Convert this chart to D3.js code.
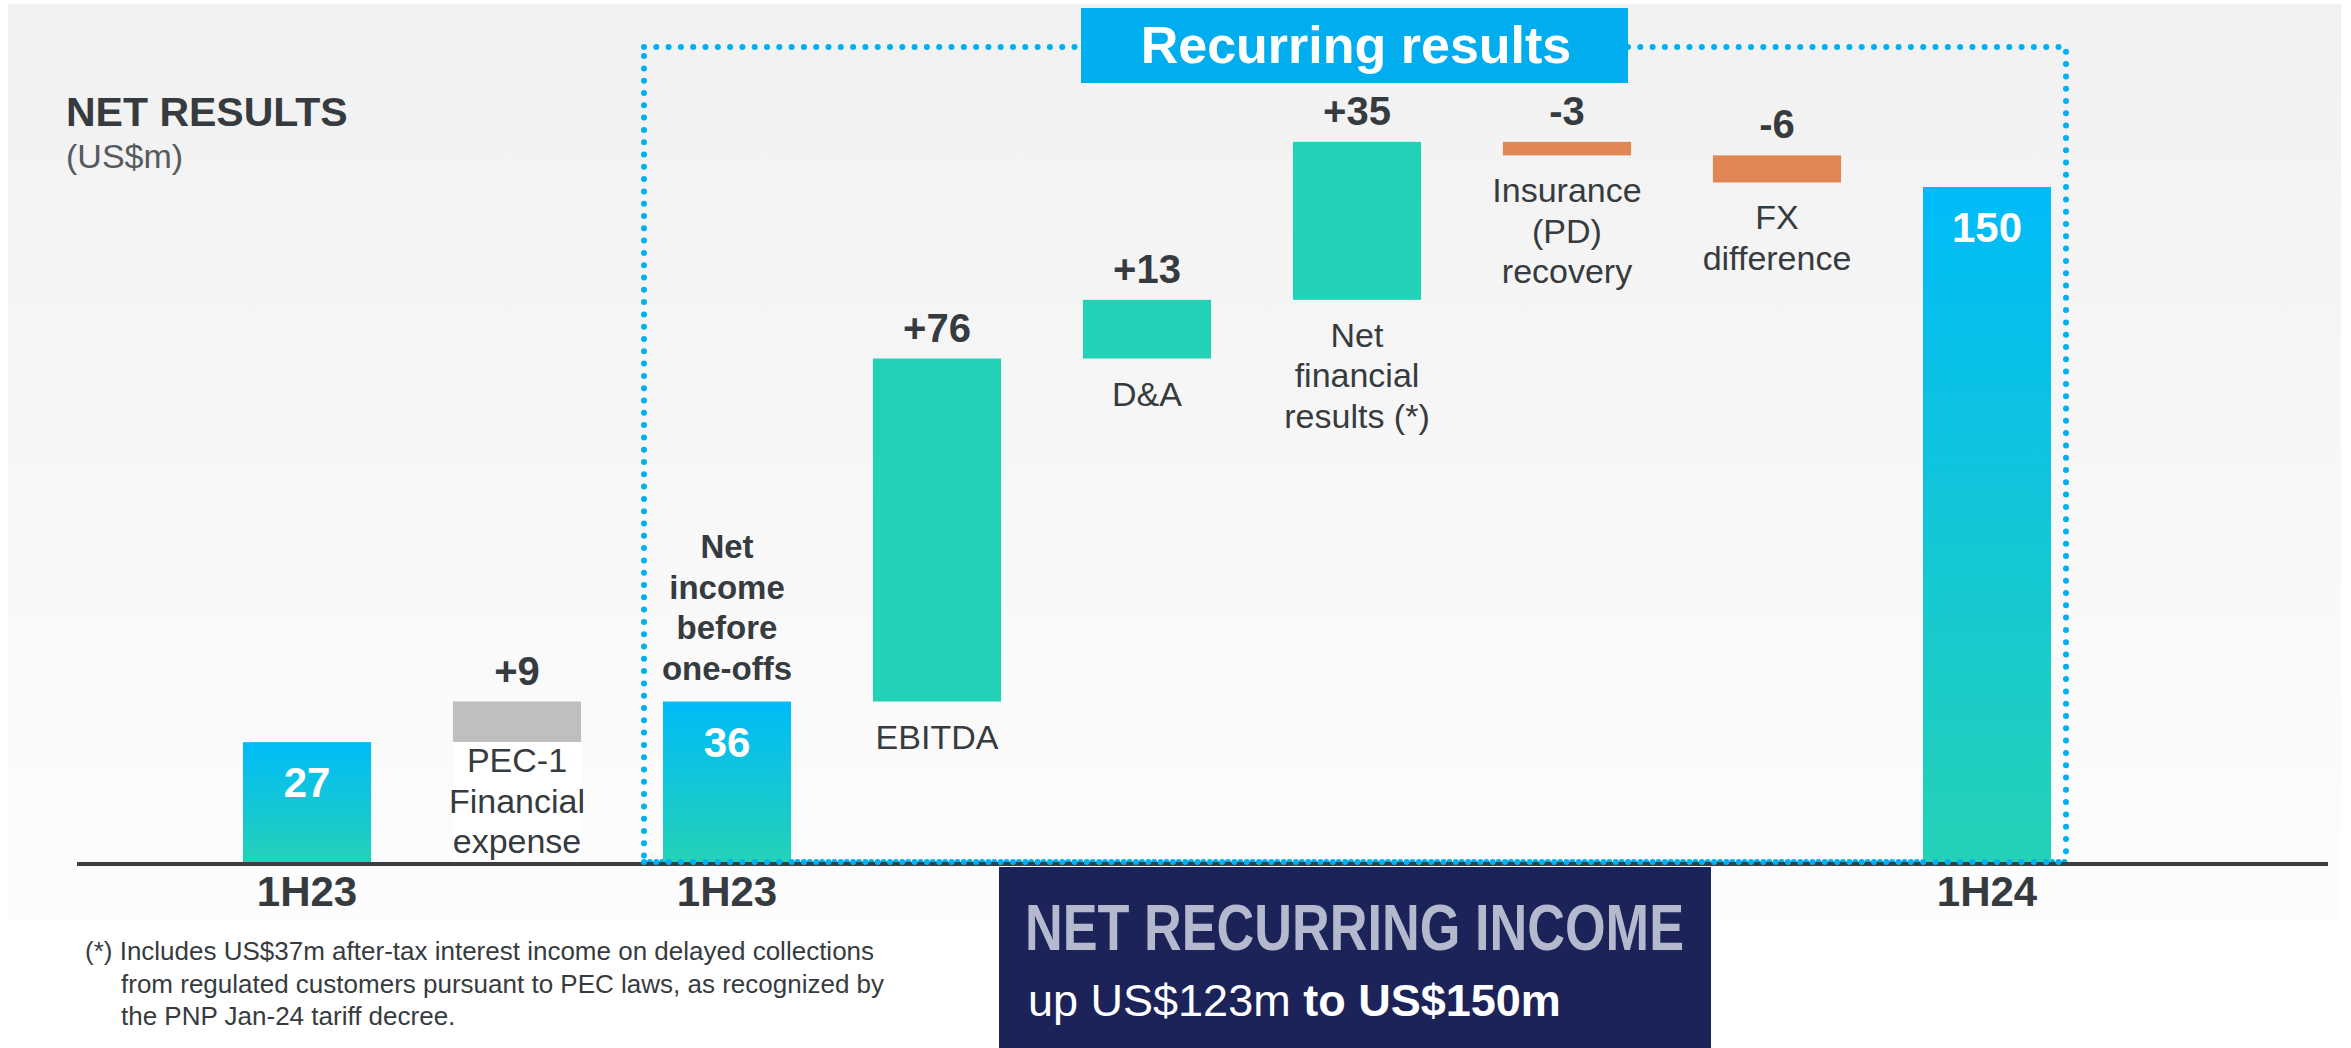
<!DOCTYPE html>
<html>
<head>
<meta charset="utf-8">
<script src="https://cdn.jsdelivr.net/npm/d3@7"></script>
<style>
  body { margin: 0; background: #fff; }
  text { font-family: "Liberation Sans", Arial, sans-serif; }
</style>
</head>
<body>
<script>
// data
const categories = ['1H23', 'PEC-1', '1H23b', 'EBITDA', 'D&A', 'NetFin', 'Insurance', 'FX', '1H24']
const values = [27, 9, 36, 76, 13, 35, -3, -6, 150]
const kinds = ['total', 'oneoff', 'total', 'up', 'up', 'up', 'down', 'down', 'total']
const valueLabels = ['27', '+9', '36', '+76', '+13', '+35', '-3', '-6', '150']
const stepLabels = [[], ['PEC-1', 'Financial', 'expense'], [], ['EBITDA'], ['D&A'],
  ['Net', 'financial', 'results (*)'], ['Insurance', '(PD)', 'recovery'], ['FX', 'difference'], []]
const axisLabels = ['1H23', '', '1H23', '', '', '', '', '', '1H24']
const noteLines = ['(*) Includes US$37m after-tax interest income on delayed collections',
  'from regulated customers pursuant to PEC laws, as recognized by',
  'the PNP Jan-24 tariff decree.']

const width = 2351
const height = 1048
const baseY = 864
const dark = '#363b40'

const colors = { up: '#23d1b6', down: '#e08655', oneoff: '#bfbfbf' }

// running totals for the waterfall
let running = 0
const steps = values.map(function (v, i) {
  let start, end
  if (kinds[i] === 'total') { start = 0; end = v; running = v }
  else { start = running; end = running + v; running = end }
  return { cat: categories[i], kind: kinds[i], start: start, end: end, i: i }
})

const x = d3.scaleBand()
  .domain(categories)
  .range([202, 2092])
  .paddingInner(0.39)
  .paddingOuter(0.195)
const y = d3.scaleLinear()
  .domain([0, 150])
  .range([baseY, 187])

const svg = d3.select('body').append('svg')
  .attr('width', width)
  .attr('height', height)

const defs = svg.append('defs')
const bg = defs.append('linearGradient').attr('id', 'bg')
  .attr('x1', 0).attr('y1', 0).attr('x2', 0).attr('y2', 1)
bg.append('stop').attr('offset', '0%').attr('stop-color', '#f1f1f1')
bg.append('stop').attr('offset', '100%').attr('stop-color', '#fdfdfd')
const tot = defs.append('linearGradient').attr('id', 'tot')
  .attr('x1', 0).attr('y1', 0).attr('x2', 0).attr('y2', 1)
tot.append('stop').attr('offset', '0%').attr('stop-color', '#00bbf9')
tot.append('stop').attr('offset', '100%').attr('stop-color', '#24d2b6')

// panel
svg.append('rect')
  .attr('x', 8).attr('y', 4).attr('width', 2333).attr('height', 916)
  .style('fill', 'url(#bg)')

// heading
svg.append('text').attr('x', 66).attr('y', 126)
  .style('font-size', '41px').style('font-weight', 'bold').style('fill', dark)
  .text('NET RESULTS')
svg.append('text').attr('x', 66).attr('y', 168)
  .style('font-size', '34px').style('fill', '#555a5f')
  .text('(US$m)')

// recurring results frame
svg.append('rect')
  .attr('x', 644).attr('y', 47).attr('width', 1422).attr('height', 815)
  .style('fill', 'none').style('stroke', '#00b0f0')
  .style('stroke-width', 6).style('stroke-linecap', 'round')
  .style('stroke-dasharray', '0 12.3')

svg.append('rect')
  .attr('x', 1081).attr('y', 8).attr('width', 547).attr('height', 75)
  .style('fill', '#00adef')
svg.append('text').attr('x', 1356).attr('y', 63)
  .attr('text-anchor', 'middle')
  .style('font-size', '52px').style('font-weight', 'bold').style('fill', '#fff')
  .text('Recurring results')

// bars
const g = svg.selectAll('.step')
  .data(steps)
  .enter().append('g')
  .attr('class', 'step')

g.append('rect')
  .attr('x', function (d) { return x(d.cat) })
  .attr('y', function (d) { return y(Math.max(d.start, d.end)) })
  .attr('width', x.bandwidth())
  .attr('height', function (d) { return Math.abs(y(d.start) - y(d.end)) })
  .style('fill', function (d) { return d.kind === 'total' ? 'url(#tot)' : colors[d.kind] })

// white box behind the one-off label
g.filter(function (d) { return d.kind === 'oneoff' })
  .append('rect')
  .attr('x', function (d) { return x(d.cat) })
  .attr('y', function (d) { return y(Math.min(d.start, d.end)) })
  .attr('width', x.bandwidth())
  .attr('height', function (d) { return baseY - y(Math.min(d.start, d.end)) })
  .style('fill', '#fff')

// value labels
g.append('text')
  .attr('x', function (d) { return x(d.cat) + x.bandwidth() / 2 })
  .attr('y', function (d) {
    const top = y(Math.max(d.start, d.end))
    return d.kind === 'total' ? top + 55 : top - 17
  })
  .attr('text-anchor', 'middle')
  .style('font-size', function (d) { return d.kind === 'total' ? '42px' : '40px' })
  .style('font-weight', 'bold')
  .style('fill', function (d) { return d.kind === 'total' ? '#fff' : dark })
  .text(function (d) { return valueLabels[d.i] })

// step labels under the bars
g.each(function (d) {
  const lines = stepLabels[d.i]
  const bottom = y(Math.min(d.start, d.end))
  const first = d.kind === 'oneoff' ? bottom + 30 : bottom + 47
  d3.select(this).selectAll('.lab')
    .data(lines)
    .enter().append('text')
    .attr('class', 'lab')
    .attr('x', x(d.cat) + x.bandwidth() / 2)
    .attr('y', function (t, k) { return first + k * 40.5 })
    .attr('text-anchor', 'middle')
    .style('font-size', '34px')
    .style('fill', dark)
    .text(function (t) { return t })
})

// label above the adjusted 1H23 bar
const adjLines = ['Net', 'income', 'before', 'one-offs']
svg.append('g').selectAll('text')
  .data(adjLines)
  .enter().append('text')
  .attr('x', x('1H23b') + x.bandwidth() / 2)
  .attr('y', function (t, k) { return 558 + k * 40.5 })
  .attr('text-anchor', 'middle')
  .style('font-size', '33px').style('font-weight', 'bold').style('fill', dark)
  .text(function (t) { return t })

// axis
const axis = svg.append('g')
  .attr('transform', 'translate(0,' + baseY + ')')
  .call(d3.axisBottom(x).tickSize(0).tickPadding(12)
    .tickFormat(function (c, i) { return axisLabels[i] }))
axis.select('.domain').remove()
axis.selectAll('text')
  .attr('dy', '0.71em')
  .style('font-family', '"Liberation Sans", Arial, sans-serif')
  .style('font-size', '42px').style('font-weight', 'bold').style('fill', dark)
svg.append('line')
  .attr('x1', 77).attr('x2', 2328).attr('y1', baseY).attr('y2', baseY)
  .style('stroke', '#3a3f44').style('stroke-width', 4)
// bottom dotted edge sits on the axis line
svg.append('line')
  .attr('x1', 644).attr('x2', 2066).attr('y1', 862).attr('y2', 862)
  .style('stroke', '#00b0f0').style('stroke-width', 6)
  .style('stroke-linecap', 'round').style('stroke-dasharray', '0 12.3')

// net recurring income box
svg.append('rect')
  .attr('x', 999).attr('y', 867).attr('width', 712).attr('height', 181)
  .style('fill', '#1c2359')
svg.append('text').attr('x', 1025).attr('y', 950)
  .attr('textLength', 659).attr('lengthAdjust', 'spacingAndGlyphs')
  .style('font-size', '65px').style('font-weight', 'bold').style('fill', '#b4b9cd')
  .text('NET RECURRING INCOME')
const sub = svg.append('text').attr('x', 1028).attr('y', 1016)
  .style('font-size', '45px').style('fill', '#fff')
sub.append('tspan').text('up US$123m ')
sub.append('tspan').style('font-weight', 'bold').text('to US$150m')

// footnote
svg.append('g').selectAll('text')
  .data(noteLines)
  .enter().append('text')
  .attr('x', function (t, k) { return k === 0 ? 85 : 121 })
  .attr('y', function (t, k) { return 960 + k * 32.5 })
  .style('font-size', '26px').style('fill', dark)
  .text(function (t) { return t })
</script>
</body>
</html>
